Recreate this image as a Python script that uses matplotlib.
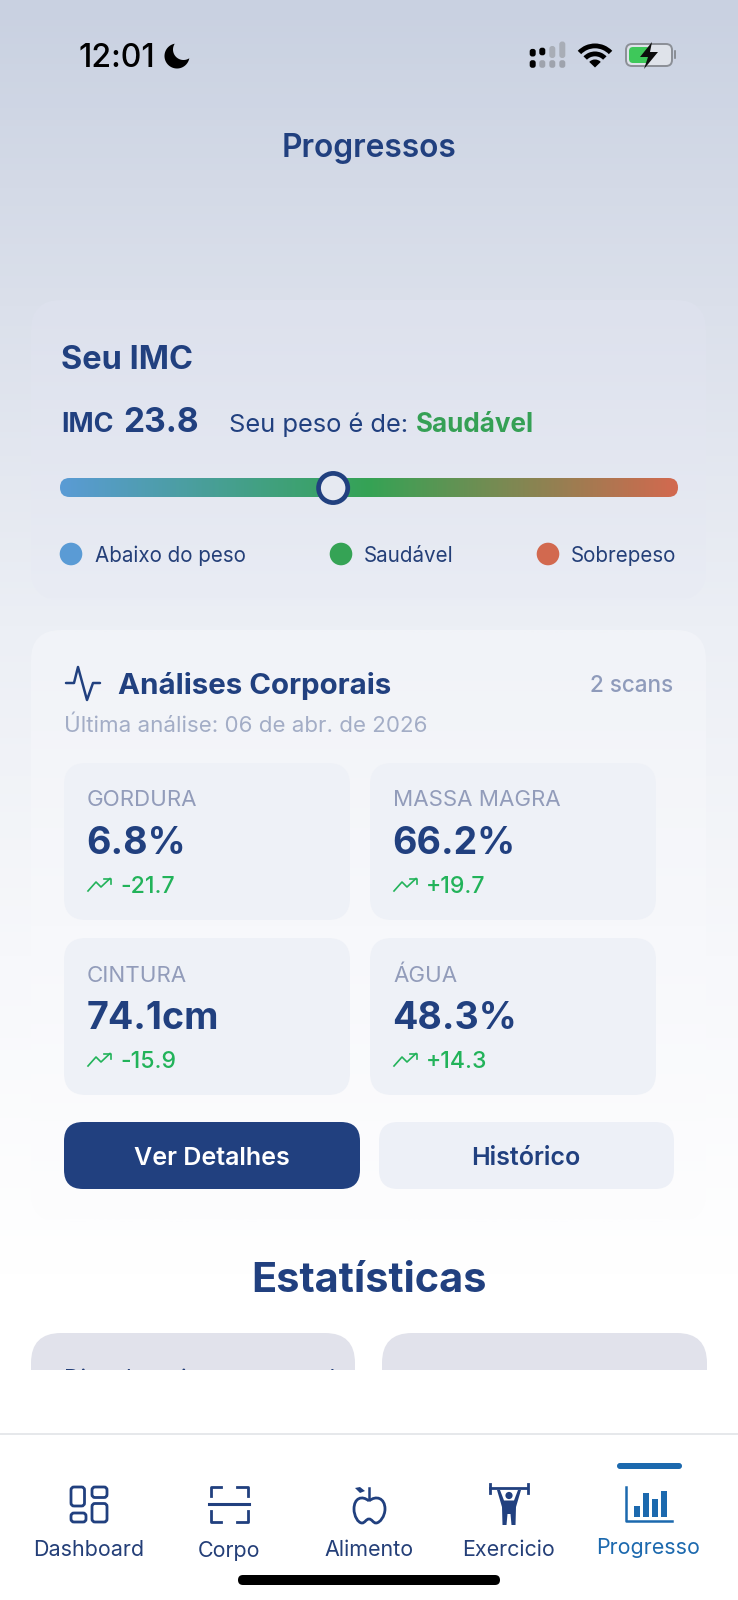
import numpy as np
import matplotlib
matplotlib.use("Agg")
import matplotlib.pyplot as plt
from matplotlib.colors import LinearSegmentedColormap
from matplotlib.patches import FancyBboxPatch, Circle, Rectangle, Wedge, Polygon, PathPatch
from matplotlib.path import Path

plt.rcParams['font.family'] = ['Inter', 'DejaVu Sans']

W, H = 738, 1600
NAVY = '#21407f'
NAVY2 = '#243f78'
BLUE = '#1c69ae'
GREEN = '#35a055'
DELTA = '#22b35a'
GREY = '#929cba'

# ---- data
screen_title = 'Progressos'
bmi_value = 23.8
bmi_status = 'Saudável'
bmi_knob_fraction = 0.442
legend_labels = ['Abaixo do peso', 'Saudável', 'Sobrepeso']
legend_colors = ['#5a9bd5', '#35a355', '#d2694f']
metric_labels = ['GORDURA', 'MASSA MAGRA', 'CINTURA', 'ÁGUA']
metric_values = ['6.8%', '66.2%', '74.1cm', '48.3%']
metric_deltas = ['-21.7', '+19.7', '-15.9', '+14.3']
tab_labels = ['Dashboard', 'Corpo', 'Alimento', 'Exercicio', 'Progresso']
tab_bar_heights = [0.43, 0.90, 0.68, 0.98]

fig = plt.figure(figsize=(W / 100, H / 100), dpi=100)
ax = fig.add_axes([0, 0, 1, 1])
ax.set_xlim(0, W)
ax.set_ylim(H, 0)
ax.axis('off')


def txt(x, y, s, px, color=NAVY, weight='normal', ha='left', z=10):
    return ax.text(x, y, s, fontsize=px * 0.72, color=color, fontweight=weight,
                   ha=ha, va='baseline', zorder=z)


def rbox(x0, y0, x1, y1, r, fc, ec='none', lw=0, alpha=None, z=3):
    p = FancyBboxPatch((x0 + r, y0 + r), x1 - x0 - 2 * r, y1 - y0 - 2 * r,
                       boxstyle=f'round,pad={r},rounding_size={r}',
                       fc=fc, ec=ec, lw=lw, alpha=alpha, zorder=z)
    ax.add_patch(p)
    return p


def shadow(x0, y0, x1, y1, r, strength, spread=24, dy=8, z=2):
    for i in range(spread, 0, -2):
        rbox(x0 - i, y0 - i + dy, x1 + i, y1 + i + dy, r + i,
             '#5a6a90', alpha=strength, z=z)


def gradient_card(x0, y0, x1, y1, r, top, bottom, z=3):
    clip = rbox(x0, y0, x1, y1, r, 'none', z=z)
    cmap = LinearSegmentedColormap.from_list('card', [top, bottom])
    im = ax.imshow(np.linspace(0, 1, 300)[:, None], cmap=cmap, aspect='auto',
                   extent=[x0, x1, y1, y0], zorder=z)
    im.set_clip_path(clip)
    ax.set_xlim(0, W)
    ax.set_ylim(H, 0)


# ---- background gradient
bg_cmap = LinearSegmentedColormap.from_list('bg', [
    (0.0, '#c9d1e1'), (0.19, '#dbe0eb'), (0.39, '#eceff5'),
    (0.60, '#f7f8fb'), (0.80, '#ffffff'), (1.0, '#ffffff')])
ax.imshow(np.linspace(0, 1, 800)[:, None], cmap=bg_cmap, aspect='auto',
          extent=[0, W, H, 0], zorder=0, vmin=0, vmax=1)
ax.set_xlim(0, W)
ax.set_ylim(H, 0)

# ---- status bar
txt(79, 67, '12:01', 32, '#000000', 'medium', z=12)
MX, MY, MR = 177, 56, 12.5
IX, IY, IR = 183.5, 49.5, 10.5
ang = np.linspace(0, 2 * np.pi, 361)
ox, oy = MX + MR * np.cos(ang), MY + MR * np.sin(ang)
keep = np.hypot(ox - IX, oy - IY) > IR
start = np.argmax(~keep[:-1] & np.roll(keep[:-1], -1))
ox, oy, keep = np.roll(ox[:-1], -start - 1), np.roll(oy[:-1], -start - 1), np.roll(keep[:-1], -start - 1)
ix, iy = IX + IR * np.cos(ang), IY + IR * np.sin(ang)
ikeep = np.hypot(ix - MX, iy - MY) < MR
istart = np.argmax(~ikeep[:-1] & np.roll(ikeep[:-1], -1))
ix, iy, ikeep = np.roll(ix[:-1], -istart - 1), np.roll(iy[:-1], -istart - 1), np.roll(ikeep[:-1], -istart - 1)
moon = np.r_[np.c_[ox[keep], oy[keep]], np.c_[ix[ikeep], iy[ikeep]][::-1]]
ax.add_patch(Polygon(moon, fc='black', ec='none', zorder=12))
for cx, cy, col in [(532.7, 52.7, 'black'), (542.3, 51.5, 'black'),
                    (532.7, 64, 'black'), (542.3, 64, '#9ea3ad'),
                    (552.3, 64, '#9ea3ad'), (562.3, 64, '#9ea3ad')]:
    rbox(cx - 3, cy - 3.8, cx + 3, cy + 3.8, 2.5, col, z=12)
rbox(549.3, 46, 555.3, 58, 2.8, '#a8adb6', z=12)
rbox(559.3, 41.5, 565.3, 58, 2.8, '#a8adb6', z=12)
for r, wd in [(24, 4.8), (16, 4.8)]:
    ax.add_patch(Wedge((595, 67.5), r, 224, 316, width=wd, fc='black', ec='none', zorder=12))
ax.add_patch(Wedge((595, 67.5), 8, 224, 316, fc='black', ec='none', zorder=12))
rbox(626, 44, 672, 66, 6, '#dfe3ea', ec='#8b8f96', lw=1.4, z=12)
rbox(629, 47, 650, 63, 4, '#3ec85a', z=12)
ax.add_patch(Polygon([[652, 42], [640, 57], [648, 57], [644, 69], [658, 52], [650, 52]],
                     fc='#0d0d0d', ec='none', zorder=13))
rbox(674, 50, 676, 59, 1, '#8b8f96', z=12)

txt(369, 157, screen_title, 31.7, NAVY, 'semibold', 'center')

# ---- BMI card
shadow(31, 300, 706, 600, 30, 0.0017)
gradient_card(31, 300, 706, 600, 30, '#dde1ed', '#e9ecf4')
txt(61, 369, 'Seu IMC', 32.5, NAVY, 'bold')
txt(61, 432, 'IMC', 27, NAVY, 'bold')
txt(123, 432, f'{bmi_value}', 33.5, NAVY, 'bold')
txt(229, 432, 'Seu peso é de:', 25.5, NAVY, 'normal')
txt(416, 432, bmi_status, 26, GREEN, 'bold')

slider_cmap = LinearSegmentedColormap.from_list('imc', [
    (0, legend_colors[0]), (0.5, legend_colors[1]), (1, legend_colors[2])])
track = rbox(60, 478, 678, 497, 9.5, 'none', z=4)
im = ax.imshow(np.linspace(0, 1, 400)[None, :], cmap=slider_cmap, aspect='auto',
               extent=[60, 678, 497, 478], zorder=4)
im.set_clip_path(track)
ax.set_xlim(0, W)
ax.set_ylim(H, 0)
ax.add_patch(Circle((60 + bmi_knob_fraction * 618, 488), 14.6, fc='#e6e9f1', ec=NAVY, lw=3.4, zorder=5))

for cx, tx, lab, col in zip([71, 341, 548], [95, 364, 571], legend_labels, legend_colors):
    ax.add_patch(Circle((cx, 554), 11.3, fc=col, ec='none', zorder=5))
    txt(tx, 562, lab, 20.6, NAVY2)

# ---- body analysis card
shadow(31, 630, 706, 1222, 30, 0.0009)
gradient_card(31, 630, 706, 1222, 30, '#f1f3f8', '#fdfdfe')
ax.plot([66, 74, 78, 87, 93, 100], [683, 683, 667, 700, 683, 683], color=NAVY, lw=1.8,
        solid_joinstyle='round', solid_capstyle='round', zorder=10)
txt(118, 694, 'Análises Corporais', 29.5, NAVY, 'bold')
txt(673, 692, '2 scans', 22.5, '#8f9bbb', 'medium', 'right')
txt(64, 732, 'Última análise: 06 de abr. de 2026', 22.3, '#a3adc6')

tile_x = [64, 370]
tile_y = [763, 938]
for i in range(4):
    x0 = tile_x[i % 2]
    y0 = tile_y[i // 2]
    rbox(x0, y0, x0 + 286, y0 + 157, 22, '#eef1f7', z=4)
    tx = x0 + 23
    txt(tx, y0 + 43.5, metric_labels[i], 22.3, GREY, 'normal')
    txt(tx - 0.5, y0 + 91, metric_values[i], 37.5, NAVY, 'bold')
    ax.plot([tx + 1, tx + 9, tx + 14, tx + 23], [y0 + 128, y0 + 119, y0 + 124, y0 + 115.5],
            color=DELTA, lw=1.2, zorder=10)
    ax.plot([tx + 17, tx + 23.5, tx + 23.5], [y0 + 115.5, y0 + 115.5, y0 + 121],
            color=DELTA, lw=1.2, zorder=10)
    txt(tx + 33, y0 + 130, metric_deltas[i], 23, DELTA, 'medium')

rbox(64, 1122, 360, 1189, 19, NAVY, z=4)
rbox(379, 1122, 674, 1189, 19, '#edf0f7', z=4)
txt(212, 1165, 'Ver Detalhes', 25, 'white', 'semibold', 'center')
txt(526, 1165, 'Histórico', 25, NAVY, 'semibold', 'center')

# ---- statistics section
txt(369, 1292, 'Estatísticas', 41.5, NAVY, 'bold', 'center')
rbox(31, 1333, 355, 1420, 30, '#e1e2eb', z=4)
rbox(382, 1333, 707, 1420, 30, '#e1e2eb', z=4)
txt(64, 1386, 'Dias de treinamento total', 23, NAVY2, z=5)

# ---- tab bar
ax.add_patch(Rectangle((0, 1370), W, H - 1370, fc='white', ec='none', zorder=6))
ax.plot([0, W], [1434, 1434], color='#e2e4e8', lw=1.2, zorder=7)
rbox(617, 1463, 682, 1469, 3, BLUE, z=7)

# dashboard icon
for a, b, c, d in [(71, 1487, 84.5, 1506), (92, 1487, 107, 1497.5),
                   (71, 1513, 86, 1522), (92, 1503.5, 107, 1522)]:
    rbox(a, b, c, d, 3, 'none', ec=NAVY, lw=2.0, z=8)
# body scan icon
for seg in [[(210.5, 1496), (210.5, 1486.5), (221, 1486.5)],
            [(237, 1486.5), (248, 1486.5), (248, 1496)],
            [(210.5, 1511), (210.5, 1522), (221, 1522)],
            [(237, 1522), (248, 1522), (248, 1511)]]:
    xs, ys = zip(*seg)
    ax.plot(xs, ys, color=NAVY, lw=2.0, zorder=8)
ax.plot([209, 249], [1503.7, 1503.7], color=NAVY, lw=2.2, zorder=8)
# apple icon
verts = [(369, 1501), (362, 1495), (354, 1498), (354, 1509), (354, 1516), (358, 1523), (362, 1523),
         (365, 1523), (366, 1519), (369, 1519), (372, 1519), (373, 1523), (376, 1523),
         (380, 1523), (385, 1516), (385, 1509), (385, 1498), (376, 1495), (369, 1501)]
codes = [Path.MOVETO] + [Path.CURVE4] * 18
ax.add_patch(PathPatch(Path(verts, codes), fc='none', ec=NAVY, lw=2.0, zorder=8))
ax.plot([369, 369], [1488, 1499], color=NAVY, lw=1.8, zorder=8)
ax.add_patch(Polygon([[355, 1488], [360, 1487], [365, 1491], [360, 1493]], fc=NAVY, ec='none', zorder=8))
# lifter icon
ax.plot([490, 527], [1488, 1488], color=NAVY, lw=2.0, zorder=8)
ax.plot([490, 490], [1484, 1493], color=NAVY, lw=2.0, zorder=8)
ax.plot([527.5, 527.5], [1484, 1493], color=NAVY, lw=2.0, zorder=8)
ax.add_patch(Circle((509, 1495.5), 3.6, fc=NAVY, ec='none', zorder=8))
ax.add_patch(Polygon([[497, 1490], [500, 1490], [504, 1500.5], [514, 1500.5], [518, 1490], [521, 1490],
                      [516, 1507], [515.5, 1525], [511.5, 1525], [510.5, 1514], [507.5, 1514],
                      [506.5, 1525], [502.5, 1525], [502, 1507]], fc=NAVY, ec='none', zorder=8))
# progress icon
ax.plot([626, 626, 672], [1487, 1521, 1521], color=BLUE, lw=1.8, zorder=8)
for bx, frac in zip([634, 643, 652, 661], tab_bar_heights):
    ax.add_patch(Rectangle((bx, 1517 - frac * 26.5), 5.6, frac * 26.5, fc=BLUE, ec='none', zorder=8))

for lab, cx, by, col in zip(tab_labels, [88.5, 229, 369, 508, 648],
                            [1556, 1557, 1556, 1556, 1554],
                            [NAVY2, NAVY2, NAVY2, NAVY2, BLUE]):
    txt(cx, by, lab, 21.5, col, 'normal', 'center')

rbox(238, 1575, 500, 1585, 5, 'black', z=9)

fig.savefig('out.png', dpi=100)
